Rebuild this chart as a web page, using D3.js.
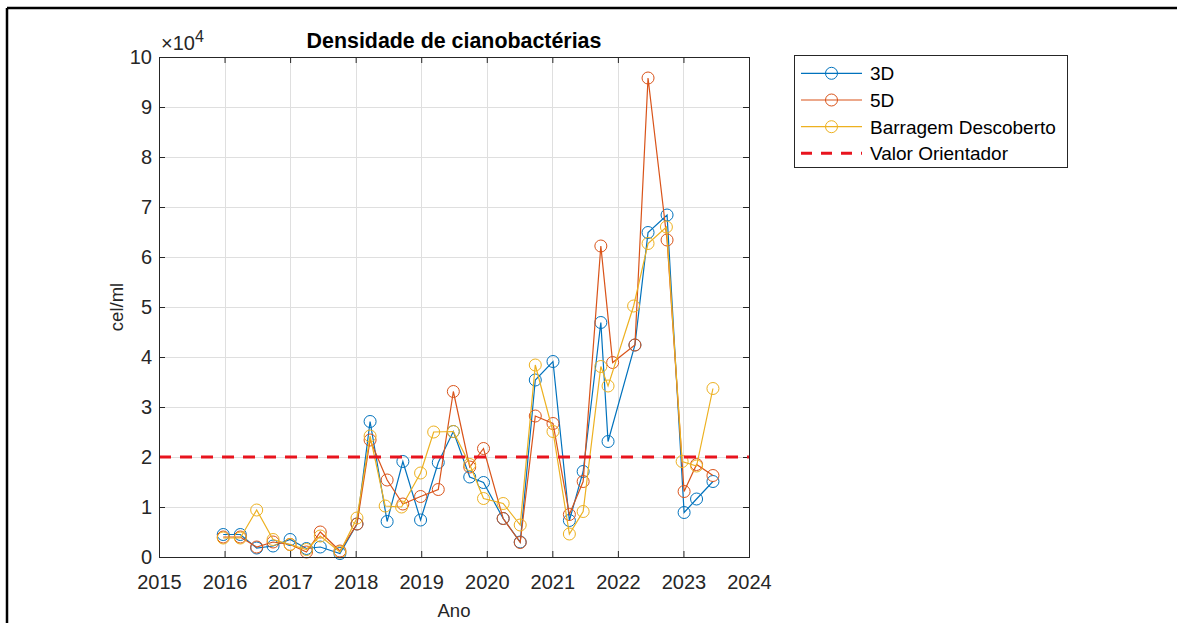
<!DOCTYPE html>
<html>
<head>
<meta charset="utf-8">
<script src="https://cdn.jsdelivr.net/npm/d3@7"></script>
<style>
  html, body { margin: 0; padding: 0; background: #ffffff; overflow: hidden; }
  svg { display: block; font-family: "Liberation Sans", Arial, Helvetica, sans-serif; }
</style>
</head>
<body>
<svg id="chart" width="1177" height="623"></svg>
<script>
// ---- data ----
const title = "Densidade de cianobactérias";
const xLabel = "Ano";
const yLabel = "cel/ml";
const xTicks = [2015, 2016, 2017, 2018, 2019, 2020, 2021, 2022, 2023, 2024];
const yTicks = [0, 10000, 20000, 30000, 40000, 50000, 60000, 70000, 80000, 90000, 100000];
const seriesNames = ["3D", "5D", "Barragem Descoberto"];
const refName = "Valor Orientador";
const refValue = 20000;

const dates3D = [2015.98, 2016.24, 2016.49, 2016.74, 2017.0, 2017.25, 2017.46, 2017.76, 2018.02, 2018.22, 2018.48, 2018.72, 2018.99, 2019.26, 2019.49, 2019.74, 2019.95, 2020.25, 2020.51, 2020.74, 2021.01, 2021.26, 2021.47, 2021.74, 2021.85, 2022.26, 2022.46, 2022.75, 2023.01, 2023.2, 2023.45];
const dates5D = [2015.98, 2016.24, 2016.49, 2016.74, 2017.0, 2017.25, 2017.46, 2017.76, 2018.02, 2018.22, 2018.48, 2018.72, 2018.99, 2019.26, 2019.49, 2019.74, 2019.95, 2020.25, 2020.51, 2020.74, 2021.01, 2021.26, 2021.47, 2021.74, 2021.92, 2022.26, 2022.46, 2022.75, 2023.01, 2023.2, 2023.45];
const datesBD = [2015.98, 2016.24, 2016.49, 2016.74, 2017.0, 2017.25, 2017.46, 2017.76, 2018.02, 2018.22, 2018.45, 2018.7, 2018.99, 2019.19, 2019.49, 2019.74, 2019.95, 2020.25, 2020.51, 2020.74, 2021.01, 2021.26, 2021.47, 2021.74, 2021.85, 2022.24, 2022.46, 2022.74, 2022.98, 2023.2, 2023.45];

const values3D = [4500, 4500, 1800, 2200, 3500, 1700, 2000, 700, 6600, 27100, 7100, 19100, 7400, 18900, 25100, 16000, 14900, 7700, 3000, 35400, 39100, 7300, 17100, 46900, 23100, 42400, 64900, 68400, 8900, 11600, 15100];
const values5D = [4000, 4000, 2000, 3000, 2500, 1000, 5000, 1200, 6600, 23400, 15400, 10600, 12100, 13500, 33100, 18000, 21700, 7700, 2900, 28200, 26700, 8500, 15100, 62200, 38900, 42400, 95800, 63400, 13100, 18500, 16300];
const valuesBD = [3800, 3800, 9400, 3500, 2500, 1500, 4200, 1000, 7800, 24200, 10200, 10000, 16800, 25000, 25100, 18500, 11700, 10700, 6400, 38400, 25100, 4600, 9100, 38100, 34200, 50200, 62700, 66000, 19100, 18200, 33700];

const colors = ["#0072BD", "#D95319", "#EDB120"];
const refColor = "#E8141E";

// ---- layout ----
const svg = d3.select("#chart");
const L = 159, R = 749, T = 57, B = 557;
const x = d3.scaleLinear().domain([2015, 2024]).range([L, R]);
const y = d3.scaleLinear().domain([0, 100000]).range([B, T]);
const txt = "#262626";

// outer frame (only top and left edges are visible in the picture)
svg.append("line").attr("x1", 7).attr("x2", 1177).attr("y1", 8).attr("y2", 8)
  .attr("stroke", "#000").attr("stroke-width", 2.5);
svg.append("line").attr("x1", 7).attr("x2", 7).attr("y1", 8).attr("y2", 623)
  .attr("stroke", "#000").attr("stroke-width", 2.5);

// grid
const grid = svg.append("g").attr("stroke", "#dfdfdf").attr("stroke-width", 1);
grid.selectAll(".gx").data(xTicks.slice(1, -1)).join("line")
  .attr("x1", d => Math.round(x(d)) + 0.5).attr("x2", d => Math.round(x(d)) + 0.5)
  .attr("y1", T).attr("y2", B);
grid.selectAll(".gy").data(yTicks.slice(1, -1)).join("line")
  .attr("y1", d => Math.round(y(d)) + 0.5).attr("y2", d => Math.round(y(d)) + 0.5)
  .attr("x1", L).attr("x2", R);

// axes
const fmtY = d => d3.format("d")(d / 10000);
const axB = svg.append("g").attr("transform", `translate(0,${B})`)
  .call(d3.axisBottom(x).tickValues(xTicks).tickFormat(d3.format("d")).tickSizeInner(-6).tickSizeOuter(0).tickPadding(18));
const axL = svg.append("g").attr("transform", `translate(${L},0)`)
  .call(d3.axisLeft(y).tickValues(yTicks).tickFormat(fmtY).tickSizeInner(-6).tickSizeOuter(0).tickPadding(7));
const axT = svg.append("g").attr("transform", `translate(0,${T})`)
  .call(d3.axisTop(x).tickValues(xTicks).tickFormat("").tickSizeInner(-6).tickSizeOuter(0));
const axR = svg.append("g").attr("transform", `translate(${R},0)`)
  .call(d3.axisRight(y).tickValues(yTicks).tickFormat("").tickSizeInner(-6).tickSizeOuter(0));
[axB, axL, axT, axR].forEach(a => {
  a.select(".domain").remove();
  a.selectAll(".tick line").attr("stroke", txt).attr("stroke-width", 1);
  a.selectAll("text").attr("fill", txt).style("font-size", "20px")
    .style("font-family", '"Liberation Sans", Arial, sans-serif');
});

// series
const seriesData = [
  dates3D.map((d, i) => ({ x: d, y: values3D[i] })),
  dates5D.map((d, i) => ({ x: d, y: values5D[i] })),
  datesBD.map((d, i) => ({ x: d, y: valuesBD[i] }))
];
const line = d3.line().x(d => x(d.x)).y(d => y(d.y));
const plot = svg.append("g");
seriesData.forEach((s, k) => {
  const g = plot.append("g");
  g.append("path").datum(s).attr("d", line).attr("fill", "none")
    .attr("stroke", colors[k]).attr("stroke-width", 1.2);
  g.selectAll("circle").data(s).join("circle")
    .attr("cx", d => x(d.x)).attr("cy", d => y(d.y)).attr("r", 6)
    .attr("fill", "none").attr("stroke", colors[k]).attr("stroke-width", 1);
});

// reference line
svg.append("line").attr("x1", L).attr("x2", R).attr("y1", y(refValue)).attr("y2", y(refValue))
  .attr("stroke", refColor).attr("stroke-width", 3).attr("stroke-dasharray", "12,9");

// axes box
svg.append("rect").attr("x", L + 0.5).attr("y", T + 0.5).attr("width", R - L).attr("height", B - T)
  .attr("fill", "none").attr("stroke", txt).attr("stroke-width", 1);

// exponent label
const ex = svg.append("text").attr("x", 161).attr("y", 50).attr("fill", txt).style("font-size", "20px");
ex.append("tspan").text("×10");
ex.append("tspan").attr("dy", -8).style("font-size", "16px").text("4");

// title
svg.append("text").attr("x", (L + R) / 2).attr("y", 48).attr("text-anchor", "middle")
  .attr("fill", "#000").style("font-size", "21.4px").style("font-weight", "bold").text(title);

// axis labels
svg.append("text").attr("x", (L + R) / 2).attr("y", 617).attr("text-anchor", "middle")
  .attr("fill", txt).style("font-size", "18.5px").text(xLabel);
svg.append("text").attr("transform", `translate(123,${(T + B) / 2}) rotate(-90)`)
  .attr("text-anchor", "middle").attr("fill", txt).style("font-size", "18.5px").text(yLabel);

// legend
const lg = svg.append("g");
lg.append("rect").attr("x", 794.5).attr("y", 55.5).attr("width", 273).attr("height", 112)
  .attr("fill", "#fff").attr("stroke", txt).attr("stroke-width", 1);
const rowY = [73.3, 100, 126.7, 153.3];
const lx1 = 801, lx2 = 862, lcx = 831.5, ltx = 870;
seriesNames.forEach((n, k) => {
  lg.append("line").attr("x1", lx1).attr("x2", lx2).attr("y1", rowY[k]).attr("y2", rowY[k])
    .attr("stroke", colors[k]).attr("stroke-width", 1.2);
  lg.append("circle").attr("cx", lcx).attr("cy", rowY[k]).attr("r", 6)
    .attr("fill", "none").attr("stroke", colors[k]).attr("stroke-width", 1);
  lg.append("text").attr("x", ltx).attr("y", rowY[k]).attr("dy", "0.36em")
    .attr("fill", "#000").style("font-size", "19px").text(n);
});
lg.append("line").attr("x1", lx1).attr("x2", lx2).attr("y1", rowY[3]).attr("y2", rowY[3])
  .attr("stroke", refColor).attr("stroke-width", 3).attr("stroke-dasharray", "11,9");
lg.append("text").attr("x", ltx).attr("y", rowY[3]).attr("dy", "0.36em")
  .attr("fill", "#000").style("font-size", "19px").text(refName);
</script>
</body>
</html>
